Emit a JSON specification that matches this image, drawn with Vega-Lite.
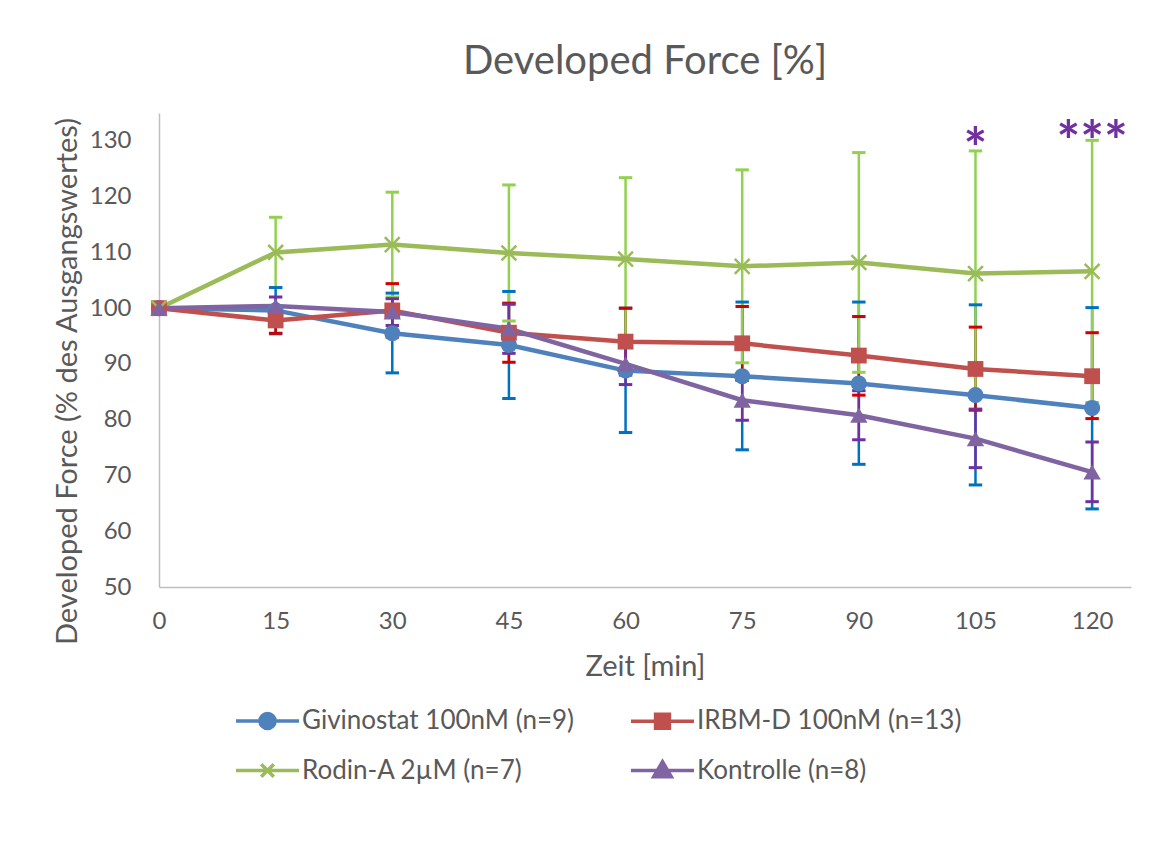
{
  "$schema": "https://vega.github.io/schema/vega-lite/v6.json",
  "autosize": "none",
  "width": 972,
  "height": 474,
  "padding": {"left": 159, "top": 113, "right": 39, "bottom": 267},
  "background": "white",
  "title": {"text": "Developed Force [%]", "font": "Lato", "fontSize": 40, "fontWeight": "normal", "color": "#595959", "anchor": "middle", "frame": "group", "baseline": "alphabetic", "offset": -1},
  "datasets": {
    "main": [
      {"series": "Givinostat 100nM (n=9)", "t": 0, "mean": 100},
      {"series": "Givinostat 100nM (n=9)", "t": 15, "mean": 99.6},
      {"series": "Givinostat 100nM (n=9)", "t": 30, "mean": 95.5},
      {"series": "Givinostat 100nM (n=9)", "t": 45, "mean": 93.4},
      {"series": "Givinostat 100nM (n=9)", "t": 60, "mean": 88.8},
      {"series": "Givinostat 100nM (n=9)", "t": 75, "mean": 87.8},
      {"series": "Givinostat 100nM (n=9)", "t": 90, "mean": 86.5},
      {"series": "Givinostat 100nM (n=9)", "t": 105, "mean": 84.4},
      {"series": "Givinostat 100nM (n=9)", "t": 120, "mean": 82.1},
      {"series": "IRBM-D 100nM (n=13)", "t": 0, "mean": 100},
      {"series": "IRBM-D 100nM (n=13)", "t": 15, "mean": 97.8},
      {"series": "IRBM-D 100nM (n=13)", "t": 30, "mean": 99.6},
      {"series": "IRBM-D 100nM (n=13)", "t": 45, "mean": 95.6},
      {"series": "IRBM-D 100nM (n=13)", "t": 60, "mean": 94.0},
      {"series": "IRBM-D 100nM (n=13)", "t": 75, "mean": 93.7},
      {"series": "IRBM-D 100nM (n=13)", "t": 90, "mean": 91.5},
      {"series": "IRBM-D 100nM (n=13)", "t": 105, "mean": 89.1},
      {"series": "IRBM-D 100nM (n=13)", "t": 120, "mean": 87.8},
      {"series": "Rodin-A 2µM (n=7)", "t": 0, "mean": 100},
      {"series": "Rodin-A 2µM (n=7)", "t": 15, "mean": 110.0},
      {"series": "Rodin-A 2µM (n=7)", "t": 30, "mean": 111.4},
      {"series": "Rodin-A 2µM (n=7)", "t": 45, "mean": 109.9},
      {"series": "Rodin-A 2µM (n=7)", "t": 60, "mean": 108.8},
      {"series": "Rodin-A 2µM (n=7)", "t": 75, "mean": 107.5},
      {"series": "Rodin-A 2µM (n=7)", "t": 90, "mean": 108.2},
      {"series": "Rodin-A 2µM (n=7)", "t": 105, "mean": 106.2},
      {"series": "Rodin-A 2µM (n=7)", "t": 120, "mean": 106.6},
      {"series": "Kontrolle (n=8)", "t": 0, "mean": 100},
      {"series": "Kontrolle (n=8)", "t": 15, "mean": 100.4},
      {"series": "Kontrolle (n=8)", "t": 30, "mean": 99.3},
      {"series": "Kontrolle (n=8)", "t": 45, "mean": 96.3},
      {"series": "Kontrolle (n=8)", "t": 60, "mean": 90.0},
      {"series": "Kontrolle (n=8)", "t": 75, "mean": 83.5},
      {"series": "Kontrolle (n=8)", "t": 90, "mean": 80.8},
      {"series": "Kontrolle (n=8)", "t": 105, "mean": 76.6},
      {"series": "Kontrolle (n=8)", "t": 120, "mean": 70.6}
    ],
    "err": [
      {"group": "Givinostat", "t": 15, "lo": 95.4, "hi": 103.7},
      {"group": "Givinostat", "t": 30, "lo": 88.4, "hi": 102.7},
      {"group": "Givinostat", "t": 45, "lo": 83.8, "hi": 103.0},
      {"group": "Givinostat", "t": 60, "lo": 77.7, "hi": 100.0},
      {"group": "Givinostat", "t": 75, "lo": 74.6, "hi": 101.1},
      {"group": "Givinostat", "t": 90, "lo": 72.0, "hi": 101.1},
      {"group": "Givinostat", "t": 105, "lo": 68.3, "hi": 100.6},
      {"group": "Givinostat", "t": 120, "lo": 64.0, "hi": 100.1},
      {"group": "IRBM-D", "t": 15, "lo": 95.5, "hi": 100.1},
      {"group": "IRBM-D", "t": 30, "lo": 94.8, "hi": 104.4},
      {"group": "IRBM-D", "t": 45, "lo": 90.3, "hi": 100.9},
      {"group": "IRBM-D", "t": 60, "lo": 88.0, "hi": 100.0},
      {"group": "IRBM-D", "t": 75, "lo": 87.1, "hi": 100.3},
      {"group": "IRBM-D", "t": 90, "lo": 84.4, "hi": 98.5},
      {"group": "IRBM-D", "t": 105, "lo": 81.7, "hi": 96.6},
      {"group": "IRBM-D", "t": 120, "lo": 80.2, "hi": 95.6},
      {"group": "Rodin-A", "t": 15, "lo": 103.7, "hi": 116.3},
      {"group": "Rodin-A", "t": 30, "lo": 102.0, "hi": 120.8},
      {"group": "Rodin-A", "t": 45, "lo": 97.7, "hi": 122.1},
      {"group": "Rodin-A", "t": 60, "lo": 94.2, "hi": 123.4},
      {"group": "Rodin-A", "t": 75, "lo": 90.2, "hi": 124.8},
      {"group": "Rodin-A", "t": 90, "lo": 88.5, "hi": 127.9},
      {"group": "Rodin-A", "t": 105, "lo": 84.2, "hi": 128.2},
      {"group": "Rodin-A", "t": 120, "lo": 83.1, "hi": 130.1},
      {"group": "Kontrolle", "t": 15, "lo": 98.8, "hi": 102.0},
      {"group": "Kontrolle", "t": 30, "lo": 96.9, "hi": 101.7},
      {"group": "Kontrolle", "t": 45, "lo": 91.9, "hi": 100.7},
      {"group": "Kontrolle", "t": 60, "lo": 86.3, "hi": 93.7},
      {"group": "Kontrolle", "t": 75, "lo": 79.9, "hi": 87.1},
      {"group": "Kontrolle", "t": 90, "lo": 76.4, "hi": 85.2},
      {"group": "Kontrolle", "t": 105, "lo": 71.4, "hi": 81.9},
      {"group": "Kontrolle", "t": 120, "lo": 65.3, "hi": 76.0}
    ],
    "sig": [
      {"t": 105, "y": 125.2, "label": "*"},
      {"t": 120, "y": 126.4, "label": "***"}
    ]
  },
  "config": {
    "view": {"stroke": null},
    "axis": {"grid": false, "ticks": false, "domainColor": "#BFBFBF", "domainWidth": 1.5, "labelFont": "Lato", "labelFontSize": 24, "labelColor": "#595959", "titleFont": "Lato", "titleFontSize": 29, "titleFontWeight": "normal", "titleColor": "#595959"},
    "legend": {"labelFont": "Lato", "labelFontSize": 26, "labelColor": "#595959"}
  },
  "encoding": {
    "x": {"field": "t", "type": "quantitative", "scale": {"domain": [0, 125], "nice": false, "zero": false},
      "axis": {"values": [0, 15, 30, 45, 60, 75, 90, 105, 120], "title": "Zeit [min]", "labelPadding": 22, "titlePadding": 19, "labelFlush": false}}
  },
  "layer": [
    {
      "data": {"name": "err"},
      "mark": {"type": "rule", "strokeWidth": 2.5},
      "encoding": {
        "y": {"field": "lo", "type": "quantitative", "scale": {"domain": [50, 135], "nice": false, "zero": false},
          "axis": {"values": [50, 60, 70, 80, 90, 100, 110, 120, 130], "title": "Developed Force (% des Ausgangswertes)", "labelPadding": 28, "titleX": -92, "titleY": 268, "titleBaseline": "middle"}},
        "y2": {"field": "hi"},
        "stroke": {"field": "group", "type": "nominal", "legend": null,
          "scale": {"domain": ["Givinostat", "IRBM-D", "Rodin-A", "Kontrolle"], "range": ["#0070C0", "#D00000", "#92D050", "#7030A0"]}}
      }
    },
    {
      "data": {"name": "err"},
      "mark": {"type": "point", "shape": "stroke", "size": 180, "strokeWidth": 3, "filled": false, "opacity": 1},
      "encoding": {
        "y": {"field": "lo", "type": "quantitative"},
        "stroke": {"field": "group", "type": "nominal", "legend": null}
      }
    },
    {
      "data": {"name": "err"},
      "mark": {"type": "point", "shape": "stroke", "size": 180, "strokeWidth": 3, "filled": false, "opacity": 1},
      "encoding": {
        "y": {"field": "hi", "type": "quantitative"},
        "stroke": {"field": "group", "type": "nominal", "legend": null}
      }
    },
    {
      "data": {"name": "main"},
      "mark": {"type": "line", "strokeWidth": 4.5},
      "encoding": {
        "y": {"field": "mean", "type": "quantitative"},
        "color": {"field": "series", "type": "nominal",
          "scale": {"domain": ["Givinostat 100nM (n=9)", "IRBM-D 100nM (n=13)", "Rodin-A 2µM (n=7)", "Kontrolle (n=8)"], "range": ["#4F81BD", "#C0504D", "#9BBB59", "#8064A2"]},
          "legend": {"title": null, "orient": "none", "direction": "horizontal", "legendX": 75, "legendY": 574, "columns": 2, "columnPadding": 50, "rowPadding": 1, "symbolSize": 3969, "labelOffset": 1, "labelLimit": 500,
            "encode": {"symbols": {"update": {
              "shape": {"signal": "datum.label === 'Givinostat 100nM (n=9)' ? 'M-1,0H1M0.24,0A0.24,0.24 0 1 1 -0.24,0A0.24,0.24 0 1 1 0.24,0Z' : datum.label === 'IRBM-D 100nM (n=13)' ? 'M-1,0H1M-0.22,-0.22H0.22V0.22H-0.22Z' : datum.label === 'Kontrolle (n=8)' ? 'M-1,0H1M0,-0.28L0.28,0.2H-0.28Z' : 'M-1,0H1M-0.2,-0.2L0.2,0.2M-0.2,0.2L0.2,-0.2'"},
              "strokeWidth": {"value": 3.5}
            }}}}
        }
      }
    },
    {
      "data": {"name": "main"},
      "transform": [{"filter": "datum.series === 'Givinostat 100nM (n=9)'"}],
      "mark": {"type": "point", "shape": "circle", "filled": true, "opacity": 1, "size": 260},
      "encoding": {
        "y": {"field": "mean", "type": "quantitative"},
        "color": {"field": "series", "type": "nominal"}
      }
    },
    {
      "data": {"name": "main"},
      "transform": [{"filter": "datum.series === 'IRBM-D 100nM (n=13)'"}],
      "mark": {"type": "point", "shape": "square", "filled": true, "opacity": 1, "size": 250},
      "encoding": {
        "y": {"field": "mean", "type": "quantitative"},
        "color": {"field": "series", "type": "nominal"}
      }
    },
    {
      "data": {"name": "main"},
      "transform": [{"filter": "datum.series === 'Rodin-A 2µM (n=7)'"}],
      "mark": {"type": "point", "shape": "M-1,-1L1,1M-1,1L1,-1", "size": 220, "strokeWidth": 2.5, "filled": false, "opacity": 1},
      "encoding": {
        "y": {"field": "mean", "type": "quantitative"},
        "color": {"field": "series", "type": "nominal"}
      }
    },
    {
      "data": {"name": "main"},
      "transform": [{"filter": "datum.series === 'Kontrolle (n=8)'"}],
      "mark": {"type": "point", "shape": "triangle-up", "filled": true, "opacity": 1, "size": 300},
      "encoding": {
        "y": {"field": "mean", "type": "quantitative"},
        "color": {"field": "series", "type": "nominal"}
      }
    },
    {
      "data": {"name": "sig"},
      "mark": {"type": "text", "font": "Lato", "fontSize": 56, "fontWeight": "bold", "color": "#7030A0", "baseline": "alphabetic", "align": "center"},
      "encoding": {
        "y": {"field": "y", "type": "quantitative"},
        "text": {"field": "label"}
      }
    }
  ]
}
